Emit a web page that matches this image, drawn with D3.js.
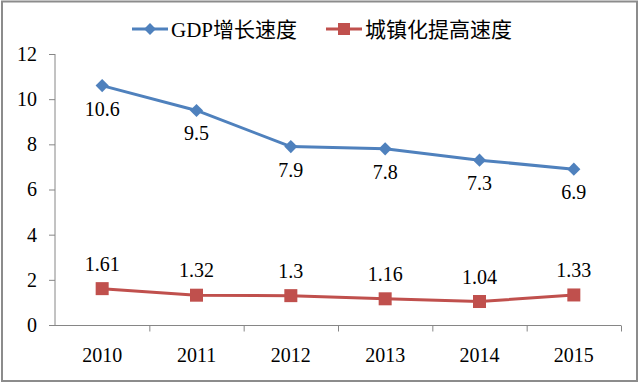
<!DOCTYPE html>
<html><head><meta charset="utf-8">
<script src="https://cdn.jsdelivr.net/npm/d3@7/dist/d3.min.js"></script>
</head><body style="margin:0">
<svg id="c" width="640" height="383" style="display:block;font-family:'Liberation Serif',serif"></svg>
<script>
const years = ["2010","2011","2012","2013","2014","2015"];
const gdp = [10.6, 9.5, 7.9, 7.8, 7.3, 6.9];
const urban = [1.61, 1.32, 1.3, 1.16, 1.04, 1.33];
const gdpLabels = ["10.6","9.5","7.9","7.8","7.3","6.9"];
const urbanLabels = ["1.61","1.32","1.3","1.16","1.04","1.33"];
const yTicks = [0,2,4,6,8,10,12];
const seriesNames = ["GDP增长速度","城镇化提高速度"];

const svg = d3.select("#c");
const serif = "Liberation Serif";
const cjk = "Liberation Serif, Noto Sans CJK SC";
const blue = "#4F81BD", red = "#C0504D", axisCol = "#868686";

svg.append("rect").attr("x",2).attr("y",1.5).attr("width",635).attr("height",379.5)
  .attr("fill","#fff").attr("stroke","#8c8c8c").attr("stroke-width",2);

const x = d3.scaleBand().domain(years).range([55,621]);
const y = d3.scaleLinear().domain([0,12]).range([325,54]);

// y axis
const ya = svg.append("g").attr("transform","translate(55,0)")
  .call(d3.axisLeft(y).tickValues(yTicks).tickSize(6).tickPadding(12).tickFormat(d3.format("d")));
ya.attr("font-family",null).attr("font-size",null);
ya.select(".domain").attr("stroke",axisCol).attr("d","M0,54V325.5");
ya.selectAll(".tick line").attr("stroke",axisCol);
ya.selectAll(".tick text").style("font-family",serif).style("font-size","20px").attr("fill","#000");

// x axis
const xa = svg.append("g").attr("transform","translate(0,325.5)")
  .call(d3.axisBottom(x).tickSize(0).tickPadding(22));
xa.attr("font-family",null).attr("font-size",null);
xa.select(".domain").attr("stroke",axisCol).attr("d","M55,0H621");
xa.selectAll(".tick text").style("font-family",serif).style("font-size","20px").attr("fill","#000");
const bounds = years.map(d => x(d)).concat([x(years[years.length-1]) + x.bandwidth()]).slice(1);
xa.selectAll("line.bt").data(bounds).enter().append("line").attr("class","bt")
  .attr("x1",d=>d+0.5).attr("x2",d=>d+0.5).attr("y1",0).attr("y2",6).attr("stroke",axisCol);

const cx = d => x(d) + x.bandwidth()/2;
const line = d3.line().x((d,i)=>cx(years[i])).y(d=>y(d));

// GDP series
svg.append("path").datum(gdp).attr("d",line).attr("fill","none").attr("stroke",blue).attr("stroke-width",3).attr("stroke-linejoin","round");
svg.selectAll("path.dia").data(gdp).enter().append("path").attr("class","dia")
  .attr("d",d3.symbol().type(d3.symbolDiamond2).size(110))
  .attr("transform",(d,i)=>`translate(${cx(years[i])},${y(d)})`).attr("fill",blue);
svg.selectAll("text.gl").data(gdp).enter().append("text").attr("class","gl")
  .attr("x",(d,i)=>cx(years[i])).attr("y",d=>y(d)+30).attr("text-anchor","middle")
  .style("font-family",serif).style("font-size","20px").text((d,i)=>gdpLabels[i]);

// Urbanization series
svg.append("path").datum(urban).attr("d",line).attr("fill","none").attr("stroke",red).attr("stroke-width",3).attr("stroke-linejoin","round");
svg.selectAll("rect.sq").data(urban).enter().append("rect").attr("class","sq")
  .attr("x",(d,i)=>cx(years[i])-6.5).attr("y",d=>y(d)-6.5).attr("width",13).attr("height",13).attr("fill",red);
svg.selectAll("text.ul").data(urban).enter().append("text").attr("class","ul")
  .attr("x",(d,i)=>cx(years[i])).attr("y",d=>y(d)-18).attr("text-anchor","middle")
  .style("font-family",serif).style("font-size","20px").text((d,i)=>urbanLabels[i]);

// legend
const lg = svg.append("g");
const lgItems = [{name:seriesNames[0],col:blue,sym:"d",x0:132},{name:seriesNames[1],col:red,sym:"s",x0:326}];
lgItems.forEach(it=>{
  lg.append("line").attr("x1",it.x0).attr("x2",it.x0+36).attr("y1",29).attr("y2",29).attr("stroke",it.col).attr("stroke-width",3);
  if(it.sym==="d"){
    lg.append("path").attr("d",d3.symbol().type(d3.symbolDiamond2).size(90)).attr("transform",`translate(${it.x0+18},29)`).attr("fill",it.col);
  } else {
    lg.append("rect").attr("x",it.x0+12).attr("y",23).attr("width",12).attr("height",12).attr("fill",it.col);
  }
  lg.append("text").attr("x",it.x0+39).attr("y",36.5).style("font-family",cjk).style("font-size","21px").attr("fill","#000").text(it.name);
});
</script>
</body></html>
